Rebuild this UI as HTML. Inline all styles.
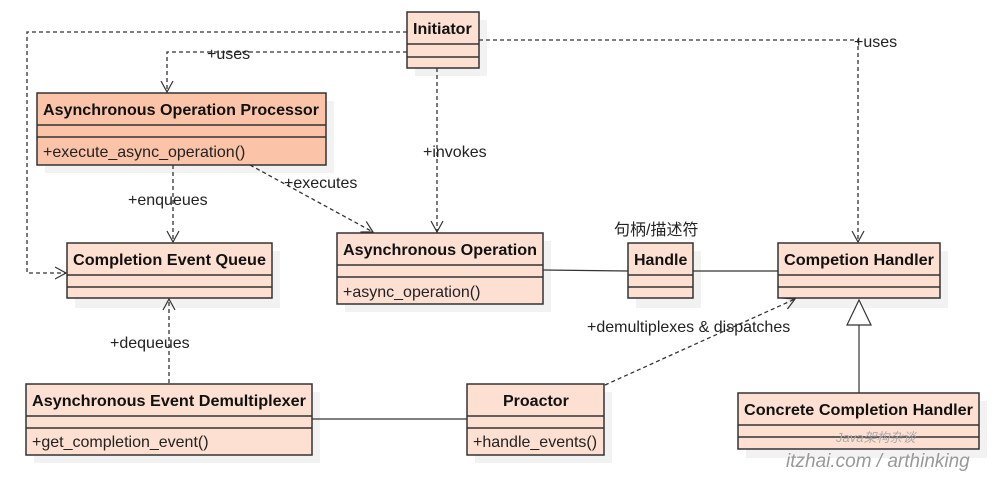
<!DOCTYPE html>
<html><head><meta charset="utf-8"><style>
body{margin:0;background:#fff;}
svg text{font-family:"Liberation Sans","Noto Sans CJK SC",sans-serif;}
</style></head><body>
<svg width="1000" height="474" viewBox="0 0 1000 474" xmlns="http://www.w3.org/2000/svg">
<defs>
<marker id="ar" markerWidth="14" markerHeight="14" refX="12" refY="7" orient="auto" markerUnits="userSpaceOnUse">
<path d="M1,1 L12,7 L1,13" fill="none" stroke="#333" stroke-width="1.2"/></marker>
</defs>
<g fill="#f2f2f2">
<rect x="415" y="20" width="72" height="56"/>
<rect x="45" y="101" width="289" height="72"/>
<rect x="75" y="251" width="205" height="57"/>
<rect x="345" y="241" width="206" height="71"/>
<rect x="636" y="251" width="65" height="57"/>
<rect x="786" y="251" width="162" height="57"/>
<rect x="34" y="392" width="286" height="71"/>
<rect x="475" y="392" width="137" height="71"/>
<rect x="746" y="401" width="241" height="57"/>
</g>
<g stroke="#333" stroke-width="1.3" fill="none" stroke-dasharray="4,3">
<polyline points="407,32 27,32 27,273 66,273" marker-end="url(#ar)"/>
<polyline points="407,52 167,52 167,92" marker-end="url(#ar)"/>
<line x1="437" y1="68" x2="437" y2="232" marker-end="url(#ar)"/>
<polyline points="479,40 858,40 858,242" marker-end="url(#ar)"/>
<line x1="173" y1="165" x2="173" y2="242" marker-end="url(#ar)"/>
<line x1="250" y1="165" x2="373" y2="232" marker-end="url(#ar)"/>
<line x1="169" y1="383" x2="169" y2="299" marker-end="url(#ar)"/>
<line x1="605" y1="385" x2="795" y2="299" marker-end="url(#ar)"/>
</g>
<g stroke="#333" stroke-width="1.2">
<line x1="543" y1="270" x2="628" y2="271"/>
<line x1="693" y1="271" x2="778" y2="271"/>
<line x1="312" y1="419" x2="467" y2="419"/>
<line x1="859" y1="393" x2="859" y2="325"/>
</g>
<polygon points="859,300 847,325 871,325" fill="#fff" stroke="#333" stroke-width="1.2"/>
<g stroke="#333" stroke-width="1.5" fill="#fde0d2">
<rect x="407" y="12" width="72" height="56"/>
<line x1="407" y1="44" x2="479" y2="44"/><line x1="407" y1="57" x2="479" y2="57"/>
<rect x="37" y="93" width="289" height="72" fill="#fbc4a8"/>
<line x1="37" y1="125" x2="326" y2="125"/><line x1="37" y1="137" x2="326" y2="137"/>
<rect x="67" y="243" width="205" height="55"/>
<line x1="67" y1="275" x2="272" y2="275"/><line x1="67" y1="287" x2="272" y2="287"/>
<rect x="337" y="233" width="206" height="71"/>
<line x1="337" y1="265" x2="543" y2="265"/><line x1="337" y1="277" x2="543" y2="277"/>
<rect x="628" y="243" width="65" height="55"/>
<line x1="628" y1="275" x2="693" y2="275"/><line x1="628" y1="287" x2="693" y2="287"/>
<rect x="778" y="243" width="162" height="55"/>
<line x1="778" y1="275" x2="940" y2="275"/><line x1="778" y1="287" x2="940" y2="287"/>
<rect x="26" y="384" width="286" height="71"/>
<line x1="26" y1="416" x2="312" y2="416"/><line x1="26" y1="428" x2="312" y2="428"/>
<rect x="467" y="384" width="137" height="71"/>
<line x1="467" y1="416" x2="604" y2="416"/><line x1="467" y1="428" x2="604" y2="428"/>
<rect x="738" y="393" width="241" height="56"/>
<line x1="738" y1="425" x2="979" y2="425"/><line x1="738" y1="437" x2="979" y2="437"/>
</g>
<g font-size="16" font-weight="bold" fill="#111">
<text x="413" y="34">Initiator</text>
<text x="43" y="115" textLength="276" lengthAdjust="spacingAndGlyphs">Asynchronous Operation Processor</text>
<text x="73" y="265" textLength="193" lengthAdjust="spacingAndGlyphs">Completion Event Queue</text>
<text x="343" y="255" textLength="194" lengthAdjust="spacingAndGlyphs">Asynchronous Operation</text>
<text x="634" y="265">Handle</text>
<text x="784" y="265" textLength="150" lengthAdjust="spacingAndGlyphs">Competion Handler</text>
<text x="32" y="406" textLength="274" lengthAdjust="spacingAndGlyphs">Asynchronous Event Demultiplexer</text>
<text x="503" y="406">Proactor</text>
<text x="744" y="415" textLength="229" lengthAdjust="spacingAndGlyphs">Concrete Completion Handler</text>
</g>
<g font-size="16" fill="#222">
<text x="43" y="157">+execute_async_operation()</text>
<text x="343" y="297">+async_operation()</text>
<text x="32" y="447">+get_completion_event()</text>
<text x="473" y="447">+handle_events()</text>
<text x="207" y="59">+uses</text>
<text x="854" y="47">+uses</text>
<text x="423" y="157">+invokes</text>
<text x="128" y="205">+enqueues</text>
<text x="284" y="188">+executes</text>
<text x="110" y="348">+dequeues</text>
<text x="587" y="332">+demultiplexes &amp; dispatches</text>
<text x="614" y="235">句柄/描述符</text>
</g>
<text x="836" y="442" font-size="13" fill="#aaa" font-style="italic">Java架构杂谈</text>
<text x="786" y="467" font-size="19" fill="#999" font-style="italic">itzhai.com / arthinking</text>
</svg>
</body></html>
